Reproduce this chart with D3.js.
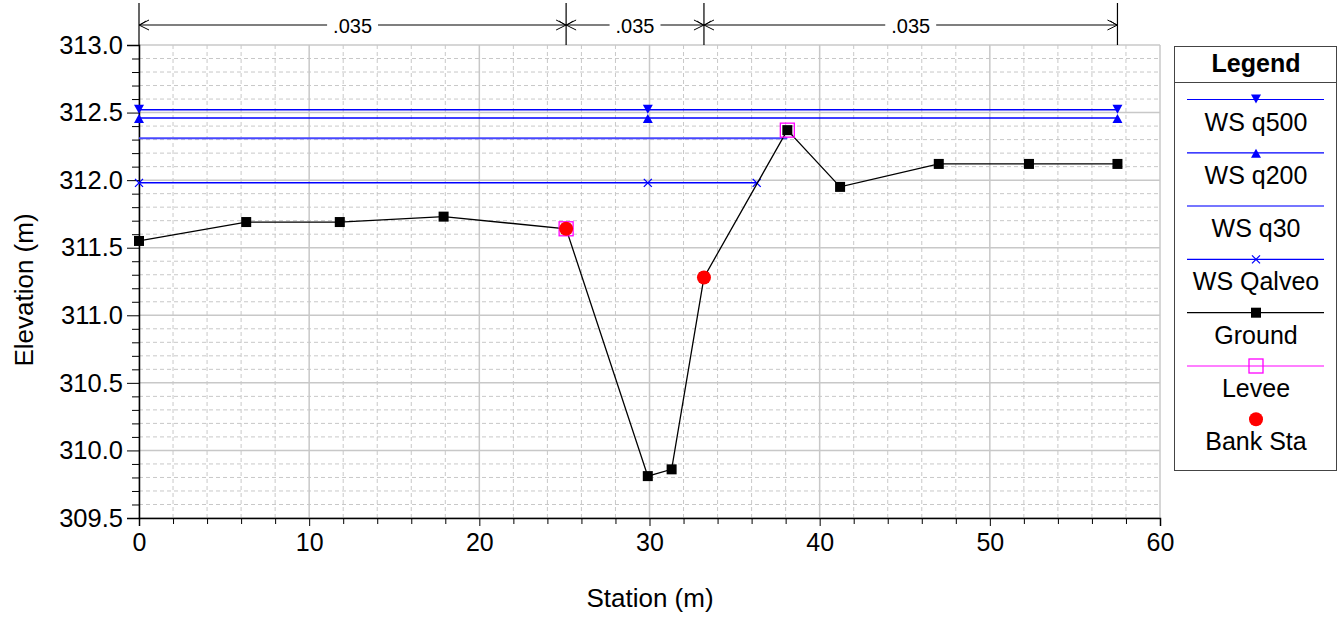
<!DOCTYPE html>
<html><head><meta charset="utf-8">
<script src="https://cdn.jsdelivr.net/npm/d3@7"></script>
<style>
body{margin:0;background:#fff;}
text{font-family:"Liberation Sans",Arial,sans-serif;}
</style></head>
<body><svg id="c" width="1344" height="617"></svg>
<script>
const stations = [0, 6.3, 11.8, 17.9, 25.1, 29.9, 31.3, 33.2, 38.1, 41.2, 47.0, 52.3, 57.5];
const ground   = [311.55, 311.69, 311.69, 311.73, 311.64, 309.81, 309.86, 311.28, 312.37, 311.95, 312.12, 312.12, 312.12];
const wsNames  = ["WS q500", "WS q200", "WS q30", "WS Qalveo"];
const wsElev   = [312.52, 312.46, 312.31, 311.98];
const wsEnd    = [57.5, 57.5, 38.1, 36.3];
const wsMarkSta = [[0, 29.9, 57.5], [0, 29.9, 57.5], [], [0, 29.9, 36.3]];
const leveeSta = [25.1, 38.1];
const leveeElev = [311.64, 312.37];
const bankSta  = [25.1, 33.2];
const bankElev = [311.64, 311.28];
const nBounds  = [0, 25.1, 33.2, 57.5];
const nValues  = [".035", ".035", ".035"];
const xTicks   = [0, 10, 20, 30, 40, 50, 60];
const yTicks   = [309.5, 310.0, 310.5, 311.0, 311.5, 312.0, 312.5, 313.0];
const legendLabels = ["WS q500", "WS q200", "WS q30", "WS Qalveo", "Ground", "Levee", "Bank Sta"];

const FONT = "Liberation Sans, Arial, sans-serif";
const svg = d3.select("#c");
const x = d3.scaleLinear().domain([0, 60]).range([139, 1160]);
const y = d3.scaleLinear().domain([309.5, 313]).range([518, 45]);
const gridCol = "#c8c8c8";

// minor grid
const g = svg.append("g");
d3.range(0, 60.001, 2).filter(v => v % 10 !== 0).forEach(v => {
  g.append("line").attr("x1", x(v)).attr("x2", x(v)).attr("y1", y(313)).attr("y2", y(309.5))
   .attr("stroke", gridCol).attr("stroke-dasharray", "4,3").attr("stroke-width", 1);
});
const yMinorVals = d3.range(0, 36).map(i => 309.5 + i * 0.1).filter((v, i) => i % 5 !== 0);
yMinorVals.forEach(v => {
  g.append("line").attr("x1", x(0)).attr("x2", x(60)).attr("y1", y(v)).attr("y2", y(v))
   .attr("stroke", gridCol).attr("stroke-dasharray", "4,3").attr("stroke-width", 1);
});
// major grid
xTicks.forEach(v => g.append("line").attr("x1", x(v)).attr("x2", x(v)).attr("y1", y(313)).attr("y2", y(309.5))
  .attr("stroke", gridCol).attr("stroke-width", 1.5));
yTicks.forEach(v => g.append("line").attr("x1", x(0)).attr("x2", x(60)).attr("y1", y(v)).attr("y2", y(v))
  .attr("stroke", gridCol).attr("stroke-width", 1.5));

// axes
const xAxis = d3.axisBottom(x).tickValues(xTicks).tickFormat(d3.format("d")).tickSize(8).tickPadding(7);
const xa = svg.append("g").attr("transform", `translate(0,${y(309.5)})`).call(xAxis);
xa.select(".domain").attr("stroke", "#000").attr("stroke-width", 1.5);
xa.selectAll("text").attr("font-size", 25).attr("fill", "#000").attr("font-family", FONT);
const xMinor = d3.axisBottom(x).tickValues(d3.range(2, 60, 2).filter(v => v % 10 !== 0)).tickSize(6).tickFormat("");
svg.append("g").attr("transform", `translate(0,${y(309.5)})`).call(xMinor).select(".domain").remove();

const yAxis = d3.axisLeft(y).tickValues(yTicks).tickFormat(d3.format(".1f")).tickSize(12).tickPadding(4);
const ya = svg.append("g").attr("transform", `translate(${x(0)},0)`).call(yAxis);
ya.select(".domain").attr("stroke", "#000").attr("stroke-width", 1.5);
ya.selectAll("text").attr("font-size", 25.5).attr("fill", "#000").attr("font-family", FONT);
const yMinor = d3.axisLeft(y).tickValues(yMinorVals).tickSize(7).tickFormat("");
svg.append("g").attr("transform", `translate(${x(0)},0)`).call(yMinor).select(".domain").remove();

svg.append("text").attr("x", 650).attr("y", 607).attr("text-anchor", "middle").attr("font-size", 26).text("Station (m)");
svg.append("text").attr("transform", "translate(33,290) rotate(-90)").attr("text-anchor", "middle").attr("font-size", 26).text("Elevation (m)");

// Manning n brackets
const by = 25;
nBounds.forEach(v => svg.append("line").attr("x1", x(v)).attr("x2", x(v)).attr("y1", 3).attr("y2", y(313))
  .attr("stroke", "#000").attr("stroke-width", 1.2));
function chevron(px, dir) {
  svg.append("path").attr("d", `M${px - dir * 10},${by - 5} L${px},${by} L${px - dir * 10},${by + 5} M${px - dir * 7},${by - 4} L${px - dir * 1},${by}`)
    .attr("fill", "none").attr("stroke", "#000").attr("stroke-width", 1);
}
nValues.forEach((t, i) => {
  const a = x(nBounds[i]), b = x(nBounds[i + 1]), m = (a + b) / 2;
  const txt = svg.append("text").attr("x", m).attr("y", by + 8).attr("text-anchor", "middle").attr("font-size", 20).text(t);
  const w = txt.node().getComputedTextLength() / 2 + 6;
  svg.append("line").attr("x1", a).attr("x2", m - w).attr("y1", by).attr("y2", by).attr("stroke", "#000").attr("stroke-width", 1.2);
  svg.append("line").attr("x1", m + w).attr("x2", b).attr("y1", by).attr("y2", by).attr("stroke", "#000").attr("stroke-width", 1.2);
  chevron(a, -1); chevron(b, 1);
});

// WS lines
const wsColors = ["#0000ff", "#0000ff", "#4848ff", "#0000ff"];
const wsWidths = [1.5, 1.5, 2, 1.5];
wsNames.forEach((n, i) => {
  svg.append("line").attr("x1", x(0)).attr("x2", x(wsEnd[i])).attr("y1", y(wsElev[i])).attr("y2", y(wsElev[i]))
    .attr("stroke", wsColors[i]).attr("stroke-width", wsWidths[i]);
});
function triDown(cx, cy) { return `M${cx - 5},${cy - 5} L${cx + 5},${cy - 5} L${cx},${cy + 4} Z`; }
function triUp(cx, cy) { return `M${cx - 5},${cy + 5} L${cx + 5},${cy + 5} L${cx},${cy - 4} Z`; }
function cross(cx, cy) { return `M${cx - 4},${cy - 4} L${cx + 4},${cy + 4} M${cx - 4},${cy + 4} L${cx + 4},${cy - 4}`; }
wsMarkSta[0].forEach(s => svg.append("path").attr("d", triDown(x(s), y(wsElev[0]))).attr("fill", "#0000ff"));
wsMarkSta[1].forEach(s => svg.append("path").attr("d", triUp(x(s), y(wsElev[1]))).attr("fill", "#0000ff"));
wsMarkSta[3].forEach(s => svg.append("path").attr("d", cross(x(s), y(wsElev[3]))).attr("stroke", "#0000ff").attr("stroke-width", 1.3).attr("fill", "none"));

// Ground
const line = d3.line().x(d => x(d[0])).y(d => y(d[1]));
const gpts = stations.map((s, i) => [s, ground[i]]);
svg.append("path").attr("d", line(gpts)).attr("fill", "none").attr("stroke", "#000").attr("stroke-width", 1.3);

// Levee
leveeSta.forEach((s, i) => svg.append("rect").attr("x", x(s) - 7).attr("y", y(leveeElev[i]) - 7).attr("width", 14).attr("height", 14)
  .attr("fill", "none").attr("stroke", "#ff00ff").attr("stroke-width", 1.3));
gpts.forEach(d => svg.append("rect").attr("x", x(d[0]) - 5).attr("y", y(d[1]) - 5).attr("width", 10).attr("height", 10).attr("fill", "#000"));
// Bank stations
bankSta.forEach((s, i) => svg.append("circle").attr("cx", x(s)).attr("cy", y(bankElev[i])).attr("r", 7).attr("fill", "#ff0000"));

// Legend
const L = svg.append("g");
L.append("rect").attr("x", 1174.5).attr("y", 46.5).attr("width", 162).attr("height", 424).attr("fill", "#fff").attr("stroke", "#444").attr("stroke-width", 1);
L.append("line").attr("x1", 1174.5).attr("x2", 1336.5).attr("y1", 82.5).attr("y2", 82.5).attr("stroke", "#444");
L.append("text").attr("x", 1256).attr("y", 72).attr("text-anchor", "middle").attr("font-size", 25).attr("font-weight", "bold").text("Legend");
const ly0 = 99.5, ldy = 53.3, lcx = 1256;
const legColors = ["#0000ff", "#0000ff", "#4848ff", "#0000ff", "#000", "#ff00ff", null];
legendLabels.forEach((lab, i) => {
  const ly = ly0 + i * ldy;
  if (legColors[i]) L.append("line").attr("x1", 1187).attr("x2", 1324).attr("y1", ly).attr("y2", ly).attr("stroke", legColors[i]).attr("stroke-width", i === 2 ? 1.5 : 1.2);
  if (i === 0) L.append("path").attr("d", triDown(lcx, ly)).attr("fill", "#0000ff");
  if (i === 1) L.append("path").attr("d", triUp(lcx, ly)).attr("fill", "#0000ff");
  if (i === 3) L.append("path").attr("d", cross(lcx, ly)).attr("stroke", "#0000ff").attr("stroke-width", 1.3);
  if (i === 4) L.append("rect").attr("x", lcx - 5).attr("y", ly - 5).attr("width", 10).attr("height", 10).attr("fill", "#000");
  if (i === 5) L.append("rect").attr("x", lcx - 7).attr("y", ly - 7).attr("width", 14).attr("height", 14).attr("fill", "none").attr("stroke", "#ff00ff").attr("stroke-width", 1.3);
  if (i === 6) L.append("circle").attr("cx", lcx).attr("cy", ly).attr("r", 7).attr("fill", "#ff0000");
  L.append("text").attr("x", lcx).attr("y", ly + 31).attr("text-anchor", "middle").attr("font-size", 25).text(lab);
});
</script></body></html>
